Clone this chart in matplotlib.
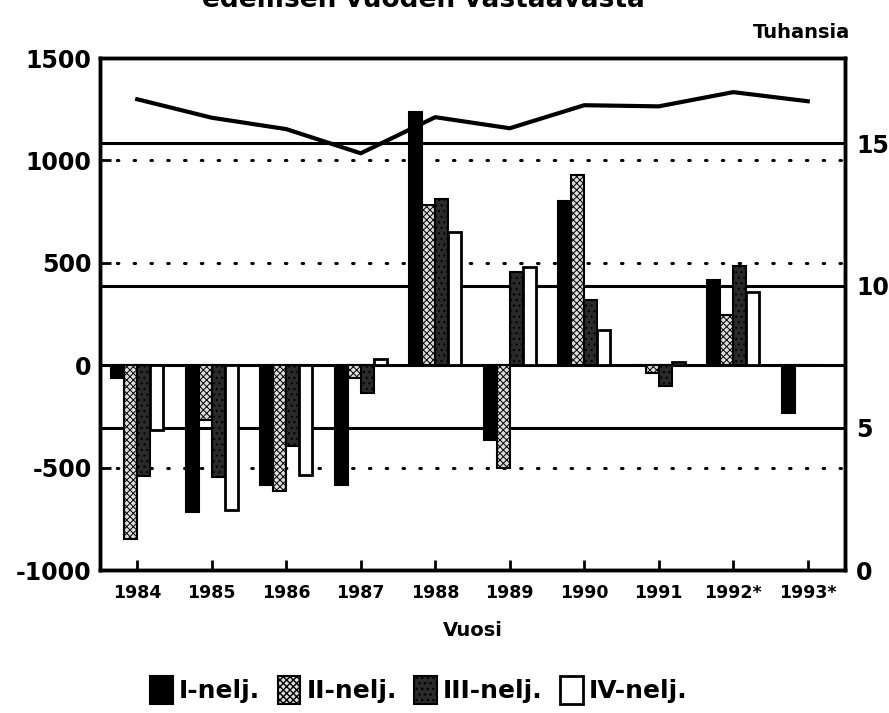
import numpy as np
import matplotlib
matplotlib.use('Agg')
import matplotlib.pyplot as plt

# data
years = ['1984', '1985', '1986', '1987', '1988', '1989', '1990', '1991', '1992*', '1993*']
q1 = [-63, -718, -583, -583, 1238, -364, 801, 0, 417, -233]
q2 = [-850, -267, -612, -63, 780, -500, 927, -40, 243, 0]
q3 = [-539, -548, -393, -136, 810, 456, 316, -102, 485, 0]
q4 = [-315, -709, -534, 30, 650, 480, 170, 15, 359, 0]
total = [16.55, 15.9, 15.5, 14.65, 15.92, 15.53, 16.34, 16.3, 16.8, 16.48]  # Tuhansia (right axis)
legend_labels = ['I-nelj.', 'II-nelj.', 'III-nelj.', 'IV-nelj.']

plt.rcParams['font.family'] = 'DejaVu Sans'
plt.rcParams['font.weight'] = 'bold'
plt.rcParams['axes.unicode_minus'] = False

fig = plt.figure(figsize=(8.89, 7.13), dpi=100)
ax = fig.add_axes([100/889, 1-570/713, 745/889, 512/713])
ax2 = ax.twinx()

x = np.arange(len(years))
w = 0.175

# grid lines first
for v in [1000, 500, -500]:
    ax.axhline(v, color='black', lw=2.2, ls=(0, (0.5, 5)), dash_capstyle='round', zorder=1)
ax.axhline(0, color='black', lw=2.2, zorder=1)

ax.bar(x - 1.5*w, q1, w, color='black', edgecolor='black', lw=1.5, zorder=3, label=legend_labels[0])
with plt.rc_context({'hatch.color': '#666666', 'hatch.linewidth': 0.7}):
    ax.bar(x - 0.5*w, q2, w, color='#dcdcdc', edgecolor='black', lw=1.5, hatch='xxxxx', zorder=3, label=legend_labels[1])
with plt.rc_context({'hatch.color': '#909090', 'hatch.linewidth': 0.8}):
    ax.bar(x + 0.5*w, q3, w, color='#2a2a2a', edgecolor='black', lw=1.5, hatch='...', zorder=3, label=legend_labels[2])
ax.bar(x + 1.5*w, q4, w, color='white', edgecolor='black', lw=2, zorder=3, label=legend_labels[3])

ax.set_xlim(-0.5, 9.5)
ax.set_ylim(-1000, 1500)
ax.set_yticks([1500, 1000, 500, 0, -500, -1000])
ax.set_xticks(x)
ax.set_xticklabels(years, fontsize=12.5, fontweight='bold')
ax.tick_params(axis='x', direction='in', length=7, width=2, pad=10)
ax.tick_params(axis='y', direction='in', length=8, width=2, labelsize=17, pad=6)
for lab in ax.get_yticklabels():
    lab.set_fontweight('bold')

# right axis with solid grid lines and the line series
ax2.set_ylim(0, 18)
ax2.set_yticks([0, 5, 10, 15])
for v in [5, 10, 15]:
    ax2.axhline(v, color='black', lw=2.2, zorder=1)
ax2.plot(x, total, color='black', lw=3, zorder=5)
ax2.tick_params(axis='y', direction='in', length=8, width=2, labelsize=17, pad=8)
for lab in ax2.get_yticklabels():
    lab.set_fontweight('bold')

ax.set_zorder(ax2.get_zorder() + 1)
ax.patch.set_visible(False)

for a in (ax, ax2):
    for s in a.spines.values():
        s.set_linewidth(2.5)

ax.set_xlabel('Vuosi', fontsize=14, fontweight='bold', labelpad=14)

# title is cut by the top edge in the reference
fig.text(423/889, 1 - 7/713, 'edellisen vuoden vastaavasta', ha='center', va='baseline',
         fontsize=19, fontweight='bold')
fig.text(850/889, 1 - 38/713, 'Tuhansia', ha='right', va='baseline', fontsize=14, fontweight='bold')

h, l = ax.get_legend_handles_labels()
fig.legend(h, l, loc='center', bbox_to_anchor=(419/889, 1 - 690/713), ncol=4, frameon=False,
           prop={'size': 18, 'weight': 'bold'}, handlelength=0.9, handleheight=1.3,
           handletextpad=0.25, columnspacing=0.7)

fig.savefig('out.png', dpi=100)
